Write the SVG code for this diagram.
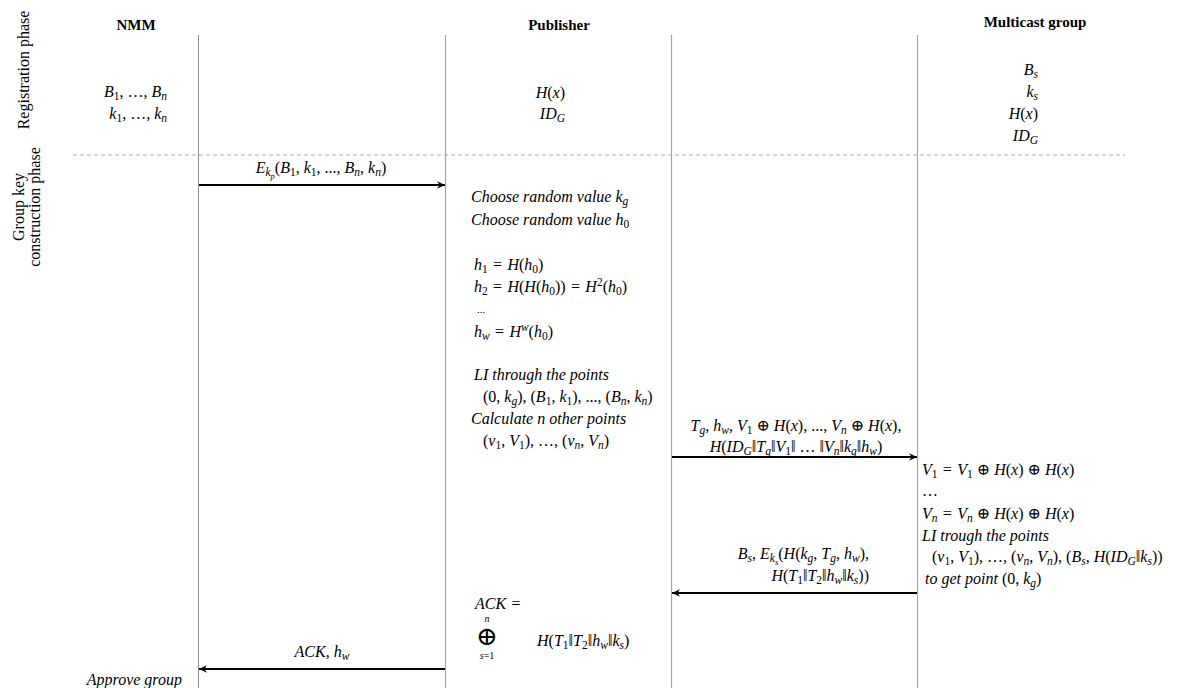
<svg xmlns="http://www.w3.org/2000/svg" width="1178" height="688" viewBox="0 0 1178 688">
<style>
text{font-family:"Liberation Serif","DejaVu Serif",serif;font-size:16px;fill:#000}
.b{font-weight:bold;font-size:15px}
.i{font-style:italic}
.sb{font-size:11.5px;baseline-shift:-3px}
.sp{font-size:11.5px;baseline-shift:6px}
.ssb{font-size:8.5px;baseline-shift:-6px}
.sm{font-size:11px}
.ph{font-size:16px}
.life{stroke:#a6a6a6;stroke-width:1.2;fill:none}
.dash{stroke:#aaa;stroke-width:1;stroke-dasharray:4 3;fill:none}
.msg{stroke:#000;stroke-width:2;fill:none;marker-end:url(#ah)}
</style>
<defs>
<marker id="ah" markerUnits="userSpaceOnUse" markerWidth="12" markerHeight="10" refX="0" refY="0" viewBox="-9 -5 10 10" orient="auto">
<path d="M0,0 L-8,-3.8 L-5.5,0 L-8,3.8 Z" fill="#000"/>
</marker>
</defs>

<g id="phases">
<text class="ph" text-anchor="middle" transform="translate(29,70) rotate(-90)">Registration phase</text>
<text class="ph" text-anchor="middle" transform="translate(24,207) rotate(-90)">Group key</text>
<text class="ph" text-anchor="middle" transform="translate(40,207) rotate(-90)">construction phase</text>
<line class="dash" x1="73" y1="155" x2="1125" y2="155"/>
</g>

<g id="lifelines">
<line class="life" x1="198.5" y1="35" x2="198.5" y2="688" style="stroke:#909090;stroke-width:1"/>
<line class="life" x1="445.5" y1="35" x2="445.5" y2="688"/>
<line class="life" x1="671.5" y1="35" x2="671.5" y2="688"/>
<line class="life" x1="917.5" y1="35" x2="917.5" y2="688"/>
</g>

<g id="nmm">
<text class="b" x="136" y="30" text-anchor="middle">NMM</text>
<text x="167" y="97" text-anchor="end"><tspan class="i">B</tspan><tspan class="sb">1</tspan>, …, <tspan class="i">B</tspan><tspan class="i sb">n</tspan></text>
<text x="167" y="119" text-anchor="end"><tspan class="i">k</tspan><tspan class="sb">1</tspan>, …, <tspan class="i">k</tspan><tspan class="i sb">n</tspan></text>
<text class="i" x="182" y="685" text-anchor="end">Approve group</text>
</g>

<g id="publisher">
<text class="b" x="559" y="30" text-anchor="middle">Publisher</text>
<text x="565" y="98" text-anchor="end"><tspan class="i">H</tspan>(<tspan class="i">x</tspan>)</text>
<text x="565" y="119" text-anchor="end"><tspan class="i">ID</tspan><tspan class="i sb">G</tspan></text>
<text class="i" x="471" y="202">Choose random value k<tspan class="sb">g</tspan></text>
<text class="i" x="471" y="225">Choose random value h<tspan class="sb" style="font-style:normal">0</tspan></text>
<text x="474" y="270"><tspan class="i">h</tspan><tspan class="sb">1</tspan>&#8196;=&#8196;<tspan class="i">H</tspan>(<tspan class="i">h</tspan><tspan class="sb">0</tspan>)</text>
<text x="474" y="292"><tspan class="i">h</tspan><tspan class="sb">2</tspan>&#8196;=&#8196;<tspan class="i">H</tspan>(<tspan class="i">H</tspan>(<tspan class="i">h</tspan><tspan class="sb">0</tspan>))&#8196;=&#8196;<tspan class="i">H</tspan><tspan class="sp">2</tspan>(<tspan class="i">h</tspan><tspan class="sb">0</tspan>)</text>
<text class="sm" x="477" y="313">...</text>
<text x="474" y="337"><tspan class="i">h</tspan><tspan class="i sb">w</tspan>&#8196;=&#8196;<tspan class="i">H</tspan><tspan class="i sp">w</tspan>(<tspan class="i">h</tspan><tspan class="sb">0</tspan>)</text>
<text class="i" x="474" y="380">LI through the points</text>
<text x="483" y="402">(0, <tspan class="i">k</tspan><tspan class="i sb">g</tspan>), (<tspan class="i">B</tspan><tspan class="sb">1</tspan>, <tspan class="i">k</tspan><tspan class="sb">1</tspan>), ..., (<tspan class="i">B</tspan><tspan class="i sb">n</tspan>, <tspan class="i">k</tspan><tspan class="i sb">n</tspan>)</text>
<text class="i" x="471" y="424">Calculate n other points</text>
<text x="483" y="446">(<tspan class="i">v</tspan><tspan class="sb">1</tspan>, <tspan class="i">V</tspan><tspan class="sb">1</tspan>), …, (<tspan class="i">v</tspan><tspan class="i sb">n</tspan>, <tspan class="i">V</tspan><tspan class="i sb">n</tspan>)</text>
<text x="475" y="609"><tspan class="i">ACK</tspan>&#8196;=</text>
<text class="i" x="487" y="622" text-anchor="middle" style="font-size:10px">n</text>
<text x="487" y="645" text-anchor="middle" style="font-size:26px">⊕</text>
<text x="487" y="659" text-anchor="middle" style="font-size:10px"><tspan class="i">s</tspan>=1</text>
<text x="537" y="646"><tspan class="i">H</tspan>(<tspan class="i">T</tspan><tspan class="sb">1</tspan>‖<tspan class="i">T</tspan><tspan class="sb">2</tspan>‖<tspan class="i">h</tspan><tspan class="i sb">w</tspan>‖<tspan class="i">k</tspan><tspan class="i sb">s</tspan>)</text>
</g>

<g id="multicast">
<text class="b" x="1035" y="27" text-anchor="middle">Multicast group</text>
<text x="1038" y="75" text-anchor="end"><tspan class="i">B</tspan><tspan class="i sb">s</tspan></text>
<text x="1038" y="97" text-anchor="end"><tspan class="i">k</tspan><tspan class="i sb">s</tspan></text>
<text x="1038" y="119" text-anchor="end"><tspan class="i">H</tspan>(<tspan class="i">x</tspan>)</text>
<text x="1038" y="141" text-anchor="end"><tspan class="i">ID</tspan><tspan class="i sb">G</tspan></text>
<text x="922" y="475"><tspan class="i">V</tspan><tspan class="sb">1</tspan>&#8196;=&#8196;<tspan class="i">V</tspan><tspan class="sb">1</tspan> ⊕ <tspan class="i">H</tspan>(<tspan class="i">x</tspan>) ⊕ <tspan class="i">H</tspan>(<tspan class="i">x</tspan>)</text>
<text x="922" y="496">…</text>
<text x="922" y="519"><tspan class="i">V</tspan><tspan class="i sb">n</tspan>&#8196;=&#8196;<tspan class="i">V</tspan><tspan class="i sb">n</tspan> ⊕ <tspan class="i">H</tspan>(<tspan class="i">x</tspan>) ⊕ <tspan class="i">H</tspan>(<tspan class="i">x</tspan>)</text>
<text class="i" x="922" y="541">LI trough the points</text>
<text x="932" y="562">(<tspan class="i">v</tspan><tspan class="sb">1</tspan>, <tspan class="i">V</tspan><tspan class="sb">1</tspan>), …, (<tspan class="i">v</tspan><tspan class="i sb">n</tspan>, <tspan class="i">V</tspan><tspan class="i sb">n</tspan>), (<tspan class="i">B</tspan><tspan class="i sb">s</tspan>, <tspan class="i">H</tspan>(<tspan class="i">ID</tspan><tspan class="i sb">G</tspan>‖<tspan class="i">k</tspan><tspan class="i sb">s</tspan>))</text>
<text x="925" y="584"><tspan class="i">to get point</tspan> (0, <tspan class="i">k</tspan><tspan class="i sb">g</tspan>)</text>
</g>

<g id="connectors">
<line class="msg" x1="199" y1="185" x2="445" y2="185"/>
<line class="msg" x1="672" y1="457" x2="917" y2="457"/>
<line class="msg" x1="917" y1="593" x2="672" y2="593"/>
<line class="msg" x1="445" y1="669" x2="199" y2="669"/>
<text x="321" y="173" text-anchor="middle"><tspan class="i">E</tspan><tspan class="i sb">k</tspan><tspan class="i ssb">p</tspan>(<tspan class="i">B</tspan><tspan class="sb">1</tspan>, <tspan class="i">k</tspan><tspan class="sb">1</tspan>, ..., <tspan class="i">B</tspan><tspan class="i sb">n</tspan>, <tspan class="i">k</tspan><tspan class="i sb">n</tspan>)</text>
<text x="796" y="431" text-anchor="middle"><tspan class="i">T</tspan><tspan class="i sb">g</tspan>, <tspan class="i">h</tspan><tspan class="i sb">w</tspan>, <tspan class="i">V</tspan><tspan class="sb">1</tspan> ⊕ <tspan class="i">H</tspan>(<tspan class="i">x</tspan>), ..., <tspan class="i">V</tspan><tspan class="i sb">n</tspan> ⊕ <tspan class="i">H</tspan>(<tspan class="i">x</tspan>),</text>
<text x="796" y="452" text-anchor="middle"><tspan class="i">H</tspan>(<tspan class="i">ID</tspan><tspan class="i sb">G</tspan>‖<tspan class="i">T</tspan><tspan class="i sb">g</tspan>‖<tspan class="i">V</tspan><tspan class="sb">1</tspan>‖ … ‖<tspan class="i">V</tspan><tspan class="i sb">n</tspan>‖<tspan class="i">k</tspan><tspan class="i sb">g</tspan>‖<tspan class="i">h</tspan><tspan class="i sb">w</tspan>)</text>
<text x="869" y="559" text-anchor="end"><tspan class="i">B</tspan><tspan class="i sb">s</tspan>, <tspan class="i">E</tspan><tspan class="i sb">k</tspan><tspan class="i ssb">s</tspan>(<tspan class="i">H</tspan>(<tspan class="i">k</tspan><tspan class="i sb">g</tspan>, <tspan class="i">T</tspan><tspan class="i sb">g</tspan>, <tspan class="i">h</tspan><tspan class="i sb">w</tspan>),</text>
<text x="869" y="581" text-anchor="end"><tspan class="i">H</tspan>(<tspan class="i">T</tspan><tspan class="sb">1</tspan>‖<tspan class="i">T</tspan><tspan class="sb">2</tspan>‖<tspan class="i">h</tspan><tspan class="i sb">w</tspan>‖<tspan class="i">k</tspan><tspan class="i sb">s</tspan>))</text>
<text x="322" y="657" text-anchor="middle"><tspan class="i">ACK</tspan>, <tspan class="i">h</tspan><tspan class="i sb">w</tspan></text>
</g>
</svg>
